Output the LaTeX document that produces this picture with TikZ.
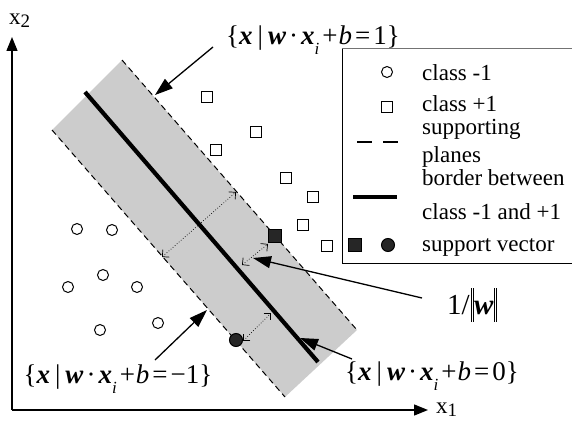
\documentclass[tikz,border=0pt]{standalone}
\usepackage{fontspec}
\setmainfont{Liberation Serif}
\usetikzlibrary{arrows.meta}
\newcommand{\vx}{\textbf{\textit{x}}}
\newcommand{\vw}{\textbf{\textit{w}}}
\newcommand{\subi}{\raisebox{-0.38em}{\fontsize{17}{17}\selectfont\textit{i}}}
\newcommand{\eqlab}[1]{\{\vx\kern5pt|\kern5pt\vw\kern3pt·\kern3pt\vx\subi\kern3pt+\kern1pt\textit{b}\kern3pt=\kern3pt#1\}}
\newcommand{\dbar}{\rule[-0.26em]{0.8pt}{1.15em}\kern1.8pt\rule[-0.26em]{0.8pt}{1.15em}}
\begin{document}
\begin{tikzpicture}[x=1pt,y=-1pt,
  font=\fontsize{23}{26}\selectfont,
  bandfill/.style={fill=black!20},
  suppline/.style={dash pattern=on 6pt off 4pt, line width=1pt},
  borderline/.style={line width=4.2pt},
  margin/.style={dotted, line width=0.7pt, {Straight Barb[length=5pt,width=10pt]}-{Straight Barb[length=5pt,width=10pt]}},
  callout/.style={line width=1.3pt, -{Triangle[length=18pt,width=12pt]}},
  negpt/.style={circle, draw, line width=1pt, minimum size=11pt, inner sep=0pt},
  pospt/.style={rectangle, draw, line width=1pt, minimum size=11pt, inner sep=0pt},
  negsv/.style={circle, draw, fill=black!85, line width=1pt, minimum size=13pt, inner sep=0pt},
  possv/.style={rectangle, draw, fill=black!85, line width=1pt, minimum size=13pt, inner sep=0pt},
  axis/.style={line width=1.4pt, -{Triangle[length=14pt,width=11pt]}},
  txt/.style={inner sep=0pt, anchor=base west},
  eqtxt/.style={inner sep=0pt, font=\fontsize{27}{30}\selectfont}
]
\useasboundingbox (0,0) rectangle (572,420);
% band corners
\coordinate (T) at (122,60);
\coordinate (R) at (357,330);
\coordinate (B) at (285,397);
\coordinate (L) at (52,130);
\fill[bandfill] (T) -- (R) -- (B) -- (L) -- cycle;
\draw[suppline] (T) -- (R);
\draw[suppline] (L) -- (B);
% border
\coordinate (b1) at (85,92);
\coordinate (b2) at (318,362);
\draw[borderline] (b1) -- (b2);
% margin arrows
\coordinate (m1a) at (162,257); \coordinate (m1b) at (236,192);
\coordinate (m2a) at (242,265); \coordinate (m2b) at (268,244);
\coordinate (m3a) at (243,341); \coordinate (m3b) at (271,313);
\draw[margin] (m1a) -- (m1b);
\draw[margin] (m2a) -- (m2b);
\draw[margin] (m3a) -- (m3b);
% class +1
\node[pospt] (p1) at (207,97) {};
\node[pospt] (p2) at (256,132) {};
\node[pospt] (p3) at (216,150) {};
\node[pospt] (p4) at (286,178) {};
\node[pospt] (p5) at (313,197) {};
\node[pospt] (p6) at (303,225) {};
\node[pospt] (p7) at (327,246) {};
\node[possv] (sp) at (275,236) {};
% class -1
\node[negpt] (n1) at (77,229) {};
\node[negpt] (n2) at (112,230) {};
\node[negpt] (n3) at (103,275) {};
\node[negpt] (n4) at (68,287) {};
\node[negpt] (n5) at (137,287) {};
\node[negpt] (n6) at (100,330) {};
\node[negpt] (n7) at (158,323) {};
\node[negsv] (sn) at (236,340) {};
% labels
\node[eqtxt] (eqp) at (313,40) {\eqlab{1}};
\node[eqtxt] (eqn) at (118,379) {\eqlab{−1}};
\node[eqtxt] (eqz) at (432,376) {\eqlab{0}};
\node[eqtxt, font=\fontsize{29}{32}\selectfont] (mw) at (472,305) {1/\kern1pt\dbar\vw\dbar};
% callouts
\coordinate (c1t) at (213,47); \coordinate (c1h) at (155,95);
\coordinate (c2t) at (155,360); \coordinate (c2h) at (207,310);
\coordinate (c3t) at (422,298); \coordinate (c3h) at (253,258);
\coordinate (c4t) at (352,359); \coordinate (c4h) at (300,338);
\draw[callout] (c1t) -- (c1h);
\draw[callout] (c2t) -- (c2h);
\draw[callout] (c3t) -- (c3h);
\draw[callout] (c4t) -- (c4h);
% legend
\coordinate (lg1) at (573,49); \coordinate (lg2) at (342,49);
\coordinate (lg3) at (342,263); \coordinate (lg4) at (573,263);
\draw[black!55, line width=1pt] (lg1) -- (lg2);
\draw[line width=1pt] (lg2) -- (lg3) -- (lg4);
\node[negpt] (ln) at (387,72) {};
\node[pospt] (lp) at (387,107) {};
\coordinate (ld1) at (357,142); \coordinate (ld2) at (398,142);
\draw[line width=1.2pt, dash pattern=on 15pt off 11pt] (ld1) -- (ld2);
\coordinate (lb1) at (353,197); \coordinate (lb2) at (397,197);
\draw[line width=4.5pt] (lb1) -- (lb2);
\node[possv] (lsp) at (355,245) {};
\node[negsv] (lsn) at (388,245) {};
\node[txt] (t1) at (422,80) {class -1};
\node[txt] (t2) at (422,111) {class +1};
\node[txt] (t3) at (422,134) {supporting};
\node[txt] (t4) at (422,162) {planes};
\node[txt] (t5) at (422,185) {border between};
\node[txt] (t6) at (422,219) {class -1 and +1};
\node[txt] (t7) at (422,251) {support vector};
% axes
\coordinate (O) at (12,410);
\coordinate (Y) at (12,37);
\coordinate (X) at (428,410);
\draw[axis] (O) -- (Y);
\draw[axis] (O) -- (X);
\node[txt] (ylab) at (9,25) {x\raisebox{-3pt}{\fontsize{19}{19}\selectfont 2}};
\node[txt] (xlab) at (436,413) {x\raisebox{-3pt}{\fontsize{19}{19}\selectfont 1}};
\end{tikzpicture}
\end{document}
